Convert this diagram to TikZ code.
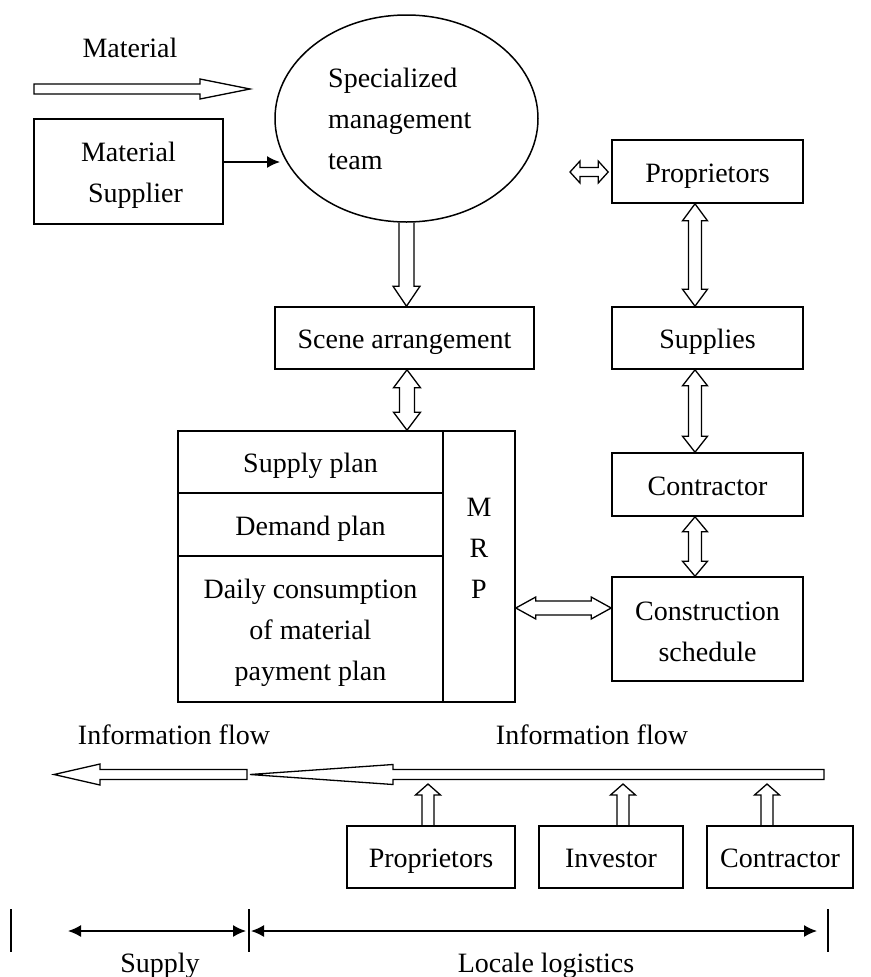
\documentclass[tikz,border=0pt]{standalone}
\usepackage{fontspec}
\setmainfont{Liberation Serif}
\usetikzlibrary{shapes.geometric,arrows.meta,calc}
\tikzset{
  lbl/.style={font=\fontsize{28}{41}\selectfont, inner sep=0pt, align=center},
  box/.style={lbl, draw, line width=1.6pt, rectangle},
  one/.style={text height=26pt, text depth=5pt},
  blk/.style={draw, line width=1.3pt, line join=miter},
  ptr/.style={line width=1.5pt, -{Latex[length=13pt,width=12pt]}},
  dim/.style={line width=1.5pt, {Latex[length=13pt,width=12pt]}-{Latex[length=13pt,width=12pt]}},
  bar/.style={line width=1.4pt},
}
% vertical double block arrow: #1 top tip, #2 bottom tip, #3 half shaft, #4 half head, #5 head length
\newcommand{\vdbl}[5]{\draw[blk] let \p1=(#1), \p2=(#2) in (\x1,\y1) -- (\x1+#4,\y1-#5) -- (\x1+#3,\y1-#5) -- (\x1+#3,\y2+#5) -- (\x1+#4,\y2+#5) -- (\x1,\y2) -- (\x1-#4,\y2+#5) -- (\x1-#3,\y2+#5) -- (\x1-#3,\y1-#5) -- (\x1-#4,\y1-#5) -- cycle;}
% horizontal double block arrow: #1 left tip, #2 right tip
\newcommand{\hdbl}[5]{\draw[blk] let \p1=(#1), \p2=(#2) in (\x1,\y1) -- (\x1+#5,\y1+#4) -- (\x1+#5,\y1+#3) -- (\x2-#5,\y1+#3) -- (\x2-#5,\y1+#4) -- (\x2,\y1) -- (\x2-#5,\y1-#4) -- (\x2-#5,\y1-#3) -- (\x1+#5,\y1-#3) -- (\x1+#5,\y1-#4) -- cycle;}
% downward block arrow: #1 tail (top), #2 tip
\newcommand{\vdown}[5]{\draw[blk] let \p1=(#1), \p2=(#2) in (\x1-#3,\y1) -- (\x1-#3,\y2+#5) -- (\x1-#4,\y2+#5) -- (\x1,\y2) -- (\x1+#4,\y2+#5) -- (\x1+#3,\y2+#5) -- (\x1+#3,\y1);}
% upward block arrow: #1 tail (bottom), #2 tip
\newcommand{\vup}[5]{\draw[blk] let \p1=(#1), \p2=(#2) in (\x1-#3,\y1) -- (\x1-#3,\y2-#5) -- (\x1-#4,\y2-#5) -- (\x1,\y2) -- (\x1+#4,\y2-#5) -- (\x1+#3,\y2-#5) -- (\x1+#3,\y1);}
% leftward block arrow: #1 tip, #2 tail
\newcommand{\hleft}[5]{\draw[blk] let \p1=(#1), \p2=(#2) in (\x1,\y1) -- (\x1+#5,\y1+#4) -- (\x1+#5,\y1+#3) -- (\x2,\y1+#3) -- (\x2,\y1-#3) -- (\x1+#5,\y1-#3) -- (\x1+#5,\y1-#4) -- cycle;}
% rightward block arrow: #1 tail, #2 tip
\newcommand{\hright}[5]{\draw[blk] let \p1=(#1), \p2=(#2) in (\x1,\y1+#3) -- (\x2-#5,\y1+#3) -- (\x2-#5,\y1+#4) -- (\x2,\y1) -- (\x2-#5,\y1-#4) -- (\x2-#5,\y1-#3) -- (\x1,\y1-#3) -- cycle;}

\begin{document}
\begin{tikzpicture}[x=1pt,y=-1pt]
\useasboundingbox (0,0) rectangle (870,977);

% ---------- top left ----------
\node[lbl] (matlbl) at (130,48) {Material};
\coordinate (mtail) at (34,89);
\coordinate (mtip) at (250,89);
\hright{mtail}{mtip}{5pt}{10pt}{50pt}

\node[box, minimum width=189pt, minimum height=105pt] (sup) at (128.5,171.5) {};
\node[lbl] (suptext) at ($(sup.center)+(0,4)$) {Material\\\hspace*{14pt}Supplier};

\node[draw, ellipse, line width=1.5pt, minimum width=263pt, minimum height=207pt, inner sep=0pt] (ell) at (406.5,118.5) {};
\node[lbl, align=left, anchor=west] (elltext) at (328,119) {Specialized\\management\\team};

\coordinate (sarr) at (280,162);
\draw[ptr] (sup.east |- sarr) -- (sarr);

% ---------- right column ----------
\node[box, one, minimum width=191pt, minimum height=63pt] (prop1) at (707.5,171.5) {Proprietors};
\node[box, one, minimum width=191pt, minimum height=62pt] (supplies) at (707.5,338) {Supplies};
\node[box, one, minimum width=191pt, minimum height=63pt] (contr1) at (707.5,484.5) {Contractor};
\node[box, minimum width=191pt, minimum height=104pt] (cs) at (707.5,629) {};
\node[lbl] (cstext) at ($(cs.center)+(0,3)$) {Construction\\schedule};

\coordinate (dleft) at (570,172);
\hdbl{dleft}{[xshift=-3pt]prop1.west}{4.5pt}{11pt}{10pt}

\coordinate (rx) at (695,0);
\vdbl{rx |- prop1.south}{rx |- supplies.north}{6.5pt}{12.5pt}{17pt}
\vdbl{rx |- supplies.south}{rx |- contr1.north}{6.5pt}{12.5pt}{16pt}
\vdbl{rx |- contr1.south}{rx |- cs.north}{6.5pt}{12.5pt}{15pt}

% ---------- center ----------
\node[box, one, minimum width=259pt, minimum height=62pt] (scene) at (404.5,338) {Scene arrangement};
\vdown{ell.south}{ell.south |- scene.north}{7.5pt}{13.5pt}{20pt}

\node[box, one, minimum width=265pt, minimum height=62pt] (sp) at (310.5,462) {Supply plan};
\node[box, one, minimum width=265pt, minimum height=63pt] (dp) at (310.5,524.5) {Demand plan};
\node[box, minimum width=265pt, minimum height=146pt] (dc) at (310.5,629) {};
\node[lbl] (dctext) at ($(dc.center)+(0,4)$) {Daily consumption\\of material\\payment plan};
\node[box, minimum width=72pt, minimum height=271pt] (mrp) at (479,566.5) {};
\node[lbl] (mrptext) at (479,548) {M\\R\\P};

\coordinate (ax) at (407,0);
\vdbl{ax |- scene.south}{ax |- sp.north}{7.5pt}{13.5pt}{18pt}

\coordinate (hy) at (0,608);
\hdbl{mrp.east |- hy}{cs.west |- hy}{7pt}{11pt}{20pt}

% ---------- information flow ----------
\node[lbl] (info1) at (174,735) {Information flow};
\node[lbl] (info2) at (592,735) {Information flow};

\coordinate (b1tip) at (54,774.5);
\coordinate (b1tail) at (247,774.5);
\coordinate (b2tip) at (250,774.5);
\coordinate (b2tail) at (824,774.5);
\hleft{b1tip}{b1tail}{5pt}{10.5pt}{46pt}
\hleft{b2tip}{b2tail}{5pt}{10pt}{143pt}

\node[box, one, minimum width=168pt, minimum height=62pt] (bprop) at (431,857) {Proprietors};
\node[box, one, minimum width=144pt, minimum height=62pt] (binv) at (611,857) {Investor};
\node[box, one, minimum width=146pt, minimum height=62pt] (bcon) at (780,857) {Contractor};

\coordinate (u1) at (428,784);
\coordinate (u2) at (623,784);
\coordinate (u3) at (767,784);
\vup{u1 |- bprop.north}{u1}{6pt}{12.5pt}{11pt}
\vup{u2 |- binv.north}{u2}{6pt}{12.5pt}{11pt}
\vup{u3 |- bcon.north}{u3}{6pt}{12.5pt}{11pt}

% ---------- bottom dimension lines ----------
\coordinate (v1t) at (11,909);  \coordinate (v1b) at (11,952);
\coordinate (v2t) at (249,909); \coordinate (v2b) at (249,952);
\coordinate (v3t) at (828,909); \coordinate (v3b) at (828,952);
\draw[bar] (v1t) -- (v1b);
\draw[bar] (v2t) -- (v2b);
\draw[bar] (v3t) -- (v3b);
\coordinate (s1) at (68,931);  \coordinate (s2) at (246,931);
\coordinate (l1) at (251,931); \coordinate (l2) at (817,931);
\draw[dim] (s1) -- (s2);
\draw[dim] (l1) -- (l2);
\node[lbl] (supplylbl) at (160,966) {Supply};
\node[lbl] (localelbl) at (546,966) {Locale logistics};
\end{tikzpicture}
\end{document}
